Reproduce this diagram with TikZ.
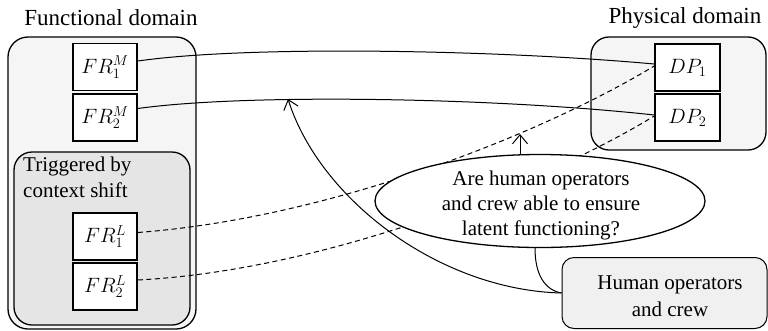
\documentclass[tikz,border=0pt]{standalone}
\usepackage{fontspec}
\setmainfont{Liberation Serif}
\usetikzlibrary{shapes.geometric,arrows.meta,calc}
\begin{document}
\begin{tikzpicture}[x=1pt,y=-1pt,
  every node/.style={font=\fontsize{21}{25}\selectfont},
  titletext/.style={font=\fontsize{23}{27}\selectfont},
  domainbox/.style={draw, line width=1.3pt, rounded corners=20pt, fill=gray!8, inner sep=0},
  innerbox/.style={draw, line width=1.3pt, rounded corners=18pt, fill=gray!20, inner sep=0},
  frbox/.style={draw, line width=1.6pt, fill=white, minimum width=64pt, minimum height=47pt, inner sep=0, font=\fontsize{22}{25}\selectfont},
  ellbox/.style={draw, ellipse, line width=1.3pt, fill=white, minimum width=330pt, minimum height=93pt, inner sep=0},
  humanbox/.style={draw, line width=1pt, rounded corners=12pt, fill=gray!12, minimum width=205pt, minimum height=71pt, inner sep=0},
  link/.style={line width=1pt},
  dlink/.style={line width=1pt, dashed, dash pattern=on 5pt off 3.5pt},
  arr/.style={line width=1pt, -{Straight Barb[length=9pt,width=15pt]}}
]
\useasboundingbox (0,0) rectangle (768,330);
% titles
\node[titletext] (ft) at (111,18) {Functional domain};
\node[titletext] (pt) at (685,18) {Physical domain};
% containers
\node[domainbox, minimum width=188pt, minimum height=292pt] (fd) at (102,183) {};
\node[innerbox, minimum width=176pt, minimum height=173pt] (ctx) at (102,238.5) {};
\node[anchor=north west, align=left, inner sep=0, font=\fontsize{21}{26}\selectfont] (trig) at (23,157) {Triggered by\\context shift};
\node[domainbox, rounded corners=18pt, minimum width=175pt, minimum height=113pt] (pd) at (678.5,93.5) {};
% requirement / parameter boxes
\node[frbox] (fr1m) at (105,67) {$FR_1^M$};
\node[frbox] (fr2m) at (105,117.5) {$FR_2^M$};
\node[frbox] (fr1l) at (105,236.5) {$FR_1^L$};
\node[frbox] (fr2l) at (105,286.5) {$FR_2^L$};
\node[frbox, minimum width=65pt] (dp1) at (687.5,67.5) {$DP_1$};
\node[frbox, minimum width=65pt] (dp2) at (687.5,117.5) {$DP_2$};
% solid links
\draw[link] ([yshift=6pt]fr1m.east) .. controls (250,45) and (500,50) .. ([yshift=3.5pt]dp1.west);
\draw[link] ([yshift=9pt]fr2m.east) .. controls (250,93) and (500,98) .. ([yshift=2.5pt]dp2.west);
% dashed links
\draw[dlink] ([yshift=4pt]fr1l.east) .. controls (330,218) and (540,135) .. ([yshift=1.5pt]dp1.west);
\draw[dlink] ([yshift=6.5pt]fr2l.east) .. controls (330,270) and (550,180) .. ([yshift=1.5pt]dp2.west);
\coordinate (pa) at (288,99);
\coordinate (qa) at (520,134);
% question ellipse
\node[ellbox] (q) at (540,201) {};
\node[align=center] (qt) at (541,205) {Are human operators\\and crew able to ensure\\latent functioning?};
% human operators
\node[humanbox] (h) at (664.5,293) {};
\node[align=center, font=\fontsize{21}{27}\selectfont] (ht) at (670,296) {Human operators\\and crew};
% arrows
\draw[arr] ([xshift=-20pt]q.north) -- (qa);
\draw[arr] (h.west) .. controls (440,290) and (320,200) .. (pa);
\draw[link] ([xshift=-5pt]q.south) .. controls (535,275) and (545,290) .. (h.west);
\end{tikzpicture}
\end{document}
